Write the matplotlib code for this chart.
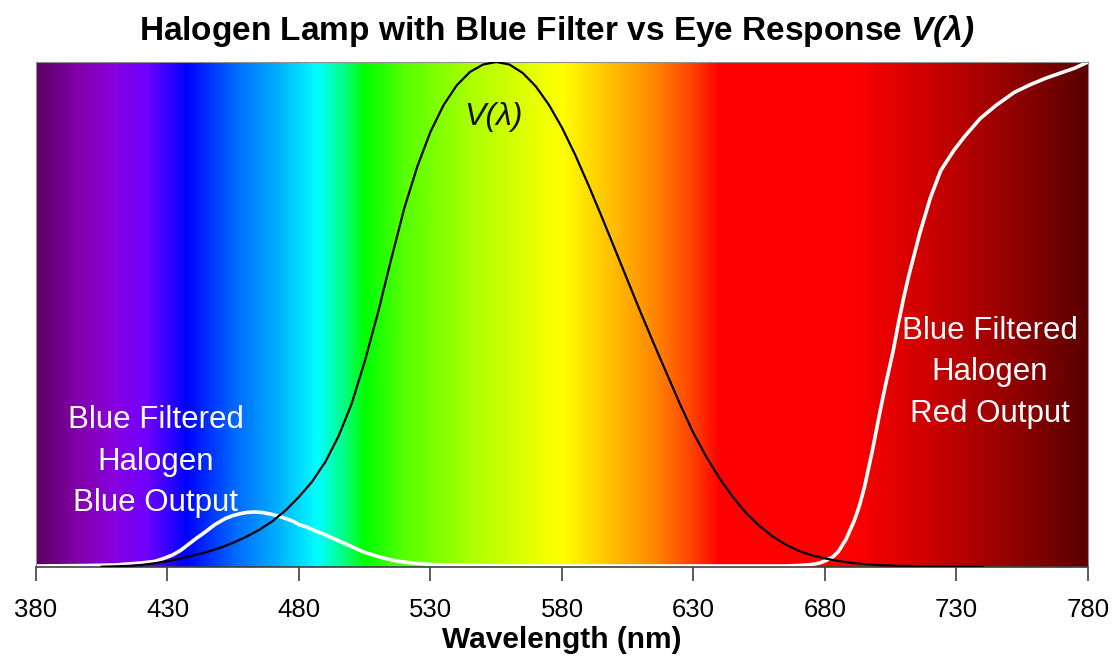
import numpy as np
import matplotlib
matplotlib.use("Agg")
import matplotlib.pyplot as plt
from matplotlib.colors import LinearSegmentedColormap, to_rgb

plt.rcParams['font.family'] = ['Liberation Sans', 'DejaVu Sans']
plt.rcParams['mathtext.fontset'] = 'custom'
plt.rcParams['mathtext.rm'] = 'Liberation Sans'
plt.rcParams['mathtext.it'] = 'Liberation Sans:italic'
plt.rcParams['mathtext.bf'] = 'Liberation Sans:bold'
plt.rcParams['mathtext.bfit'] = 'Liberation Sans:bold:italic'

# Eye response V(lambda)
v_wl = [405, 410, 415, 420, 425, 430, 435, 440, 445, 450, 455, 460, 465, 470,
        475, 480, 485, 490, 495, 500, 505, 510, 515, 520, 525, 530, 535, 540,
        545, 550, 555, 560, 565, 570, 575, 580, 585, 590, 595, 600, 605, 610,
        615, 620, 625, 630, 635, 640, 645, 650, 655, 660, 665, 670, 675, 680,
        685, 690, 695, 700, 705, 710, 715, 720, 730, 740]
v_val = [0.0006, 0.0012, 0.0022, 0.0040, 0.0073, 0.0116, 0.0168, 0.0230, 0.0298,
         0.0380, 0.0480, 0.0600, 0.0739, 0.0910, 0.1126, 0.1390, 0.1693, 0.2080,
         0.2586, 0.3230, 0.4073, 0.5030, 0.6082, 0.7100, 0.7932, 0.8620, 0.9149,
         0.9540, 0.9803, 0.9950, 1.0000, 0.9950, 0.9786, 0.9520, 0.9154, 0.8700,
         0.8163, 0.7570, 0.6949, 0.6310, 0.5668, 0.5030, 0.4412, 0.3810, 0.3210,
         0.2650, 0.2170, 0.1750, 0.1382, 0.1070, 0.0816, 0.0610, 0.0446, 0.0320,
         0.0232, 0.0170, 0.0119, 0.0082, 0.0057, 0.0041, 0.0029, 0.0021, 0.0015,
         0.0010, 0.0005, 0.0003]

# Blue filtered halogen output
h_wl = [380, 400, 410, 415, 420, 425, 428, 432, 435, 438, 441, 444, 448, 452,
        455, 458, 460, 463, 466, 469, 472, 475, 478, 480, 483, 486, 489, 492,
        495, 498, 501, 504, 508, 512, 517, 523, 530, 537, 544, 560, 600, 640,
        665, 670, 675, 678, 680, 683, 685, 688, 691, 693, 695, 698, 701, 703,
        706, 708, 710, 712, 714, 716, 720, 724, 729, 733, 739, 745, 752, 758,
        764, 770, 775, 780]
h_val = [0.002, 0.003, 0.004, 0.006, 0.008, 0.011, 0.016, 0.024, 0.033, 0.045,
         0.057, 0.068, 0.084, 0.096, 0.102, 0.106, 0.108, 0.109, 0.108, 0.105,
         0.101, 0.096, 0.090, 0.084, 0.079, 0.072, 0.066, 0.059, 0.052, 0.045,
         0.038, 0.031, 0.024, 0.018, 0.012, 0.008, 0.005, 0.004, 0.003, 0.002,
         0.002, 0.002, 0.002, 0.003, 0.005, 0.008, 0.012, 0.020, 0.030, 0.055,
         0.090, 0.120, 0.158, 0.230, 0.310, 0.360, 0.430, 0.485, 0.535, 0.580,
         0.620, 0.660, 0.730, 0.785, 0.825, 0.852, 0.888, 0.914, 0.940, 0.955,
         0.968, 0.979, 0.988, 1.000]

# Spectrum background colour stops
spec_wl = [380, 395, 410, 422, 437, 455, 472, 487, 496, 505, 520, 545, 565,
           580, 595, 615, 630, 640, 690, 720, 750, 780]
spec_col = ['#5c005e', '#8000a8', '#8800e0', '#7000ff', '#0000ff', '#0066ff',
            '#00b0ff', '#00ffff', '#00ff90', '#00ff00', '#55ff00', '#aaff00',
            '#ddff00', '#ffff00', '#ffcc00', '#ff8800', '#ff4000', '#ff0000',
            '#ff0000', '#cc0000', '#950000', '#5a0000']

x_ticks = [380, 430, 480, 530, 580, 630, 680, 730, 780]

fig = plt.figure(figsize=(11.14, 6.62), dpi=100)
ax = fig.add_axes([36/1114, 95/662, 1052/1114, 505/662])

stops = [((w - spec_wl[0]) / (spec_wl[-1] - spec_wl[0]), to_rgb(c))
         for w, c in zip(spec_wl, spec_col)]
cmap = LinearSegmentedColormap.from_list('spec', stops, N=1024)
grad = np.linspace(0, 1, 1024).reshape(1, -1)
ax.imshow(grad, cmap=cmap, aspect='auto', extent=[380, 780, 0, 1.0],
          interpolation='bilinear', zorder=0)

ax.plot(v_wl, v_val, color='black', lw=1.6, zorder=3, solid_joinstyle='round')
ax.plot(h_wl, h_val, color='white', lw=2.6, zorder=2, solid_joinstyle='round')

ax.set_xlim(380, 780)
ax.set_ylim(0, 1.0)
ax.set_yticks([])
ax.set_xticks(x_ticks)
ax.set_xticklabels([str(t) for t in x_ticks], fontsize=18.5)
ax.tick_params(axis='x', direction='out', length=10, width=1.2,
               color='#404040', pad=12)
for s in ['top', 'right', 'left']:
    ax.spines[s].set_color('#909090')
    ax.spines[s].set_linewidth(0.8)
ax.spines['bottom'].set_color('#404040')
ax.spines['bottom'].set_linewidth(1.2)

ax.set_xlabel('Wavelength (nm)', fontsize=21.5, fontweight='bold', labelpad=3)

fig.text(0.5, 1 - 31/662,
         r'Halogen Lamp with Blue Filter vs Eye Response $\mathbfit{V(\lambda)}$',
         ha='center', va='center', fontsize=24, fontweight='bold')

ax.text(554, 0.891, 'V(λ)', ha='center', va='center', fontstyle='italic',
        fontsize=23, color='#101010')

ax.text(425.6, 0.208, 'Blue Filtered\nHalogen\nBlue Output', ha='center',
        va='center', fontsize=22.5, color='white', linespacing=1.5)
ax.text(742.7, 0.386, 'Blue Filtered\nHalogen\nRed Output', ha='center',
        va='center', fontsize=22.5, color='white', linespacing=1.5)

fig.savefig('out.png', dpi=100)
